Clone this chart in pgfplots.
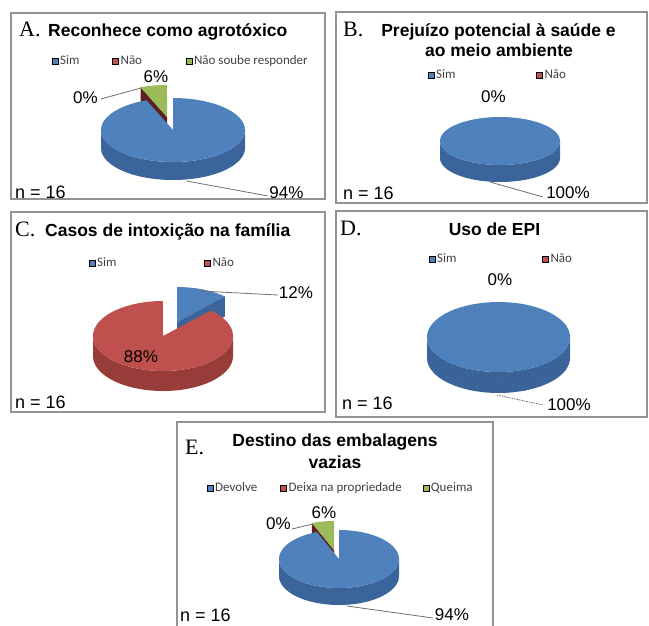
\documentclass[border=0pt]{standalone}
\usepackage{pgfplots}
\pgfplotsset{compat=1.18}
\usepackage{fontspec}
\setmainfont{Liberation Sans}
\newfontfamily\carlito{Carlito}
\newfontfamily\tnr{Liberation Serif}
\usetikzlibrary{patterns}

\pgfdeclarepatternformonly{sparsedots}{\pgfqpoint{-1pt}{-1pt}}{\pgfqpoint{1pt}{1pt}}{\pgfqpoint{5pt}{5pt}}{%
  \pgfpathcircle{\pgfqpoint{0pt}{0pt}}{0.55pt}\pgfusepath{fill}}

\definecolor{blueTop}{HTML}{4F81BD}
\definecolor{blueSide}{HTML}{3B659A}
\definecolor{redTop}{HTML}{C0504D}
\definecolor{redSide}{HTML}{983C3A}
\definecolor{greenTop}{HTML}{9BBB59}
\definecolor{redDark}{HTML}{5C1F1D}
\definecolor{frameGray}{HTML}{939393}
\definecolor{leader}{HTML}{6E6E6E}
\definecolor{legText}{HTML}{404040}
\definecolor{blueDots}{HTML}{42709F}

\pgfplotsset{
  legend image code/.code={\fill[#1] (0pt,-3pt) rectangle (6pt,3pt);},
  panel/.style={scale only axis, anchor=north west, y dir=reverse,
    axis lines=box, xtick=\empty, ytick=\empty, clip=false,
    axis line style={draw=frameGray, line width=1.3pt},
    legend columns=-1,
    legend style={draw=none, fill=none, inner sep=0pt, outer sep=0pt, anchor=west,
      font=\carlito\fontsize{13}{15}\selectfont,
      nodes={inner sep=0pt, text=legText},
      /tikz/every odd column/.append style={column sep=1.8pt}},
  },
  leaderline/.style={forget plot, draw=leader, line width=0.8pt},
}
\tikzset{
  ttl/.style={font=\bfseries\fontsize{17.5}{20}\selectfont, inner sep=0pt},
  ltr/.style={font=\tnr\fontsize{22}{24}\selectfont, inner sep=0pt},
  lab/.style={font=\fontsize{17}{19}\selectfont, inner sep=0pt},
  nn/.style={font=\fontsize{18}{20}\selectfont, inner sep=0pt, anchor=west},
}

% top face of a slice: style, cx, cy, rx, ry, a1, a2 (degrees clockwise from 12 o'clock)
\newcommand{\pietop}[7]{%
  \addplot[forget plot, draw=none, #1, domain=#6:#7, samples=90, variable=\t]
    ({#2+#4*sin(\t)}, {#3-#5*cos(\t)}) -- (axis cs:#2,#3) -- cycle;}
% front wall: style, cx, cy, rx, ry, thickness, b1, b2
\newcommand{\piewall}[8]{%
  \addplot[forget plot, draw=none, #1, domain=0:2, samples=161, variable=\t]
    ({#2+#4*sin(\t<1.001 ? #7+\t*(#8-#7) : #8-(\t-1)*(#8-#7))},
     {#3-#5*cos(\t<1.001 ? #7+\t*(#8-#7) : #8-(\t-1)*(#8-#7))+(\t>1.001)*#6}) -- cycle;}

\begin{document}
\begin{tikzpicture}
\clip (0pt,0pt) rectangle (649pt,-625pt);

% ---------------- A ----------------
\begin{axis}[panel, at={(11pt,-13pt)}, width=314pt, height=186pt,
  xmin=11, xmax=325, ymin=13, ymax=199, legend style={at={(0.1306,0.7419)}}]
\addlegendimage{fill=blueTop}\addlegendentry{\makebox[52.2pt][l]{Sim}}
\addlegendimage{fill=redTop}\addlegendentry{\makebox[65.2pt][l]{Não}}
\addlegendimage{fill=greenTop}\addlegendentry{Não soube responder}
% values: Sim 94, Não 0, Não soube responder 6
\addplot[forget plot, fill=redDark, draw=none] coordinates {(167,117) (140.5,87.2) (140.5,105.2) (167,135)} -- cycle;
\pietop{fill=greenTop}{167}{117}{72}{32}{338.4}{360}
\piewall{fill=blueSide}{173}{130}{72}{32}{18}{90}{270}
\pietop{fill=blueTop}{173}{130}{72}{32}{0}{338.4}
\addplot[leaderline] coordinates {(186.5,181) (268,196)};
\addplot[leaderline] coordinates {(101,99) (141,88)};
\node[ltr, anchor=base west] at (axis cs:19,36) {A.};
\node[ttl, anchor=base west] at (axis cs:48,36) {Reconhece como agrotóxico};
\node[lab] at (axis cs:85.5,98) {0\%};
\node[lab] at (axis cs:156,77) {6\%};
\node[lab] at (axis cs:286.5,193) {94\%};
\node[nn] at (axis cs:15,192) {n = 16};
\end{axis}

% ---------------- B ----------------
\begin{axis}[panel, at={(336pt,-12pt)}, width=311pt, height=191pt,
  xmin=336, xmax=647, ymin=12, ymax=203, legend style={at={(0.2958,0.6702)}}]
\addlegendimage{fill=blueTop}\addlegendentry{\makebox[100.2pt][l]{Sim}}
\addlegendimage{fill=redTop}\addlegendentry{Não}
% values: Sim 100, Não 0
\piewall{fill=blueSide}{500}{141}{60}{24}{17}{90}{270}
\pietop{fill=blueTop}{500}{141}{60}{24}{0}{360}
\addplot[leaderline] coordinates {(490,182) (543,197)};
\node[ltr, anchor=base west] at (axis cs:343,36) {B.};
\node[ttl, anchor=base] at (axis cs:498.5,36.5) {Prejuízo potencial à saúde e};
\node[ttl, anchor=base] at (axis cs:499,56.5) {ao meio ambiente};
\node[lab] at (axis cs:493.5,97) {0\%};
\node[lab] at (axis cs:568,193) {100\%};
\node[nn] at (axis cs:343,193) {n = 16};
\end{axis}

% ---------------- C ----------------
\begin{axis}[panel, at={(11pt,-212pt)}, width=314pt, height=200pt,
  xmin=11, xmax=325, ymin=212, ymax=412, legend style={at={(0.2484,0.745)}}]
\addlegendimage{fill=blueTop}\addlegendentry{\makebox[107.2pt][l]{Sim}}
\addlegendimage{fill=redTop}\addlegendentry{Não}
% values: Sim 12, Não 88
\pietop{fill=blueTop}{177}{322}{70}{35}{0}{43.2}
\addplot[forget plot, fill=blueSide, draw=none] coordinates {(177,322) (224.9,296.5) (224.9,316.5) (177,342)} -- cycle;
\piewall{fill=redSide}{163}{336}{70}{35}{20}{90}{270}
\pietop{fill=redTop}{163}{336}{70}{35}{43.2}{360}
\addplot[leaderline] coordinates {(200,291) (278,295)};
\node[ltr, anchor=base west] at (axis cs:15,236) {C.};
\node[ttl, anchor=base west] at (axis cs:45,236) {Casos de intoxição na família};
\node[lab] at (axis cs:141,357) {88\%};
\node[lab] at (axis cs:296,293) {12\%};
\node[nn] at (axis cs:15,402) {n = 16};
\end{axis}

% ---------------- D ----------------
\begin{axis}[panel, at={(336pt,-211pt)}, width=311pt, height=206pt,
  xmin=336, xmax=647, ymin=211, ymax=417, legend style={at={(0.299,0.767)}}]
\addlegendimage{fill=blueTop}\addlegendentry{\makebox[105.2pt][l]{Sim}}
\addlegendimage{fill=redTop}\addlegendentry{Não}
% values: Sim 100, Não 0
\piewall{fill=blueSide, postaction={pattern=sparsedots, pattern color=blueSide!80!black}}{498.5}{337}{71.5}{35}{21}{90}{270}
\pietop{fill=blueTop, postaction={pattern=sparsedots, pattern color=blueDots}}{498.5}{337}{71.5}{35}{0}{360}
\addplot[leaderline, dash pattern=on 1.5pt off 1pt] coordinates {(497,395) (543,405)};
\node[ltr, anchor=base west] at (axis cs:340,235) {D.};
\node[ttl, anchor=base] at (axis cs:494.5,235) {Uso de EPI};
\node[lab] at (axis cs:500,280) {0\%};
\node[lab] at (axis cs:569,405) {100\%};
\node[nn] at (axis cs:342,403) {n = 16};
\end{axis}

% ---------------- E ----------------
\begin{axis}[panel, at={(177pt,-422pt)}, width=316pt, height=218pt,
  xmin=177, xmax=493, ymin=422, ymax=640, legend style={at={(0.0949,0.6972)}}]
\addlegendimage{fill=blueTop}\addlegendentry{\makebox[65.2pt][l]{Devolve}}
\addlegendimage{fill=redTop}\addlegendentry{\makebox[134.2pt][l]{Deixa na propriedade}}
\addlegendimage{fill=greenTop}\addlegendentry{Queima}
% values: Devolve 94, Deixa na propriedade 0, Queima 6
\addplot[forget plot, fill=redDark, draw=none] coordinates {(334,550) (311.9,523) (311.9,540) (334,567)} -- cycle;
\pietop{fill=greenTop}{334}{550}{60}{29}{338.4}{360}
\piewall{fill=blueSide}{339}{559}{60}{29}{17}{90}{270}
\pietop{fill=blueTop}{339}{559}{60}{29}{0}{338.4}
\addplot[leaderline] coordinates {(292,529) (313,524)};
\addplot[leaderline] coordinates {(347,606) (433,618)};
\node[ltr, anchor=base west] at (axis cs:185,454) {E.};
\node[ttl, anchor=base] at (axis cs:335,446) {Destino das embalagens};
\node[ttl, anchor=base] at (axis cs:335,468) {vazias};
\node[lab] at (axis cs:278.5,524) {0\%};
\node[lab] at (axis cs:324,512.5) {6\%};
\node[lab] at (axis cs:452,615) {94\%};
\node[nn] at (axis cs:180,615) {n = 16};
\end{axis}
\end{tikzpicture}
\end{document}
